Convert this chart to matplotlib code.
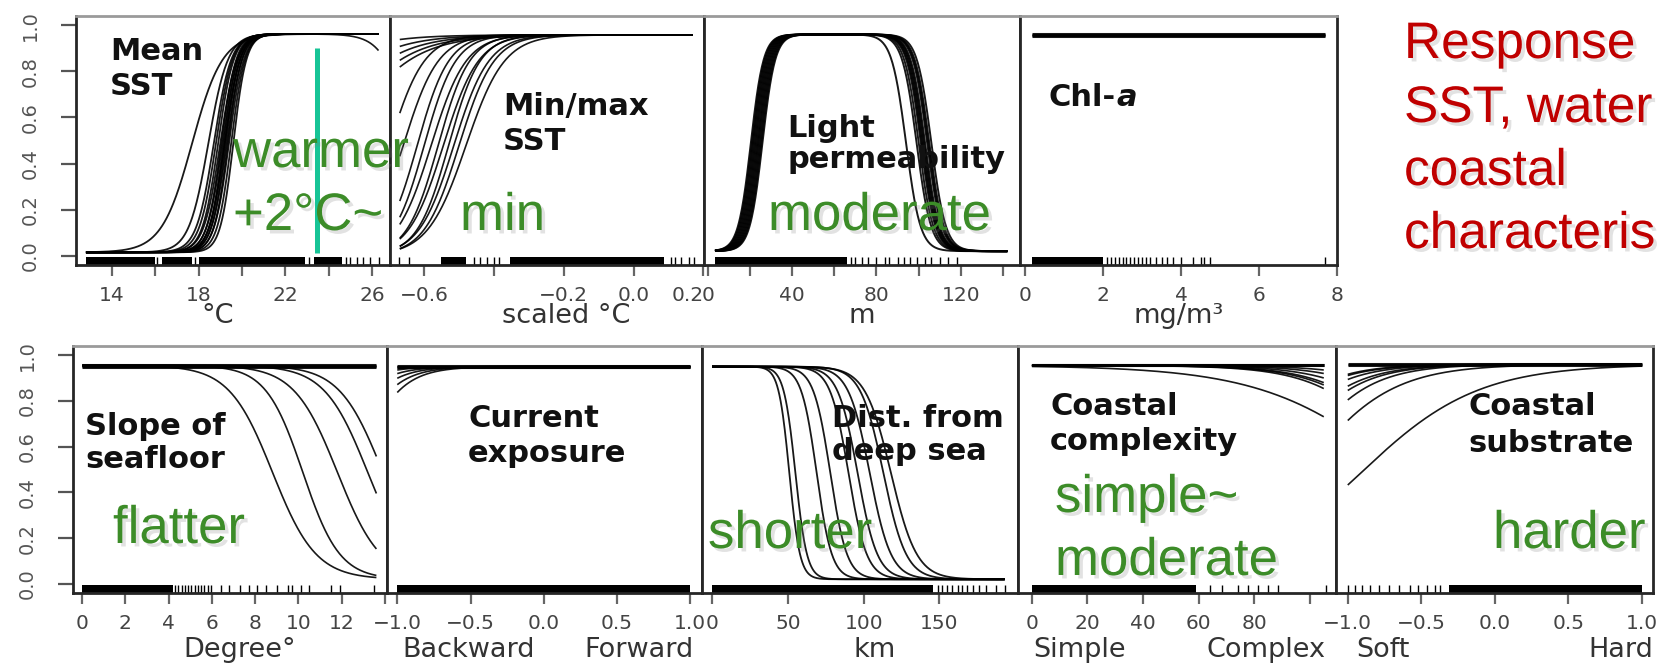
import numpy as np
import matplotlib
matplotlib.use("Agg")
import matplotlib.pyplot as plt
import matplotlib.patheffects as pe
from matplotlib.patches import Rectangle
from matplotlib.transforms import IdentityTransform

plt.rcParams["font.family"] = ["DejaVu Sans"]

W, H, DPI = 1662, 671, 100

# ---------------------------------------------------------------- data
# Mean SST (deg C): rising response curves (midpoint, scale)
sst_x = [12.8, 26.3]
sst_mid = [17.7, 18.45, 18.7, 18.8, 18.9, 19.0, 19.05, 19.1, 19.15, 19.2, 19.25, 19.3, 19.35, 19.4, 19.5, 19.6]
sst_scale = [0.7, 0.45, 0.4, 0.38, 0.36, 0.38, 0.34, 0.36, 0.33, 0.35, 0.33, 0.35, 0.32, 0.34, 0.32, 0.3]
sst_decline = [19.2, 0.35, 27.8, 0.6]          # rise mid, rise scale, fall mid, fall scale
sst_rug_dense = [(12.8, 16.0), (16.3, 17.7), (18.0, 22.9), (23.3, 24.6)]
sst_rug_sparse = [16.1, 17.85, 23.1, 24.8, 25.0, 25.3, 25.6, 25.9, 26.3]

# Min/max SST (scaled deg C)
mm_x = [-0.67, 0.17]
mm_mid = [-1.055, -0.96, -0.91, -0.874, -0.847, -0.70, -0.66, -0.62, -0.6, -0.58, -0.56, -0.545, -0.53, -0.515, -0.5, -0.48]
mm_scale = [0.1, 0.1, 0.1, 0.1, 0.1, 0.05, 0.05, 0.045, 0.045, 0.05, 0.045, 0.05, 0.045, 0.05, 0.05, 0.055]
mm_rug_dense = [(-0.551, -0.479), (-0.355, 0.086)]
mm_rug_sparse = [-0.672, -0.643, -0.456, -0.44, -0.42, -0.40, -0.385, 0.107, 0.12, 0.135, 0.159, 0.173]

# Light permeability (m): hump-shaped curves
lp_x = [3.5, 142.0]
lp_rise = [20.5, 21.0, 21.5, 22.0, 22.5, 23.0, 23.5, 24.0, 24.5, 25.0, 25.5, 26.0]
lp_fall = [94.0, 99.0, 100.0, 101.0, 101.5, 102.0, 102.5, 103.0, 104.0, 104.5, 105.0, 106.0]
lp_rise_scale = 3.0
lp_fall_scale = 3.4
lp_rug_dense = [(3.5, 66.0)]
lp_rug_sparse = [68, 70, 73, 76, 80, 84, 86, 90, 93, 96, 99, 103, 106, 110, 114, 118]

# Chl-a (mg/m3): flat responses
chl_x = [0.18, 7.7]
chl_level = [0.955, 0.958, 0.961]
chl_rug_dense = [(0.18, 2.0)]
chl_rug_sparse = [2.1, 2.2, 2.3, 2.4, 2.5, 2.6, 2.7, 2.8, 2.9, 3.0, 3.1, 3.2, 3.35, 3.5, 3.65,
                  3.8, 4.0, 4.3, 4.5, 4.6, 4.75, 7.7]

# Slope of seafloor (degree): decreasing curves plus flat ones
slope_x = [0.0, 13.6]
slope_mid = [8.8, 10.2, 11.8, 13.2, 13.9]
slope_scale = [1.0, 0.85, 1.0, 1.0, 1.0]
slope_flat = [0.950, 0.953, 0.956]
slope_rug_dense = [(0.0, 4.2)]
slope_rug_sparse = [4.3, 4.45, 4.6, 4.75, 4.9, 5.05, 5.2, 5.35, 5.5, 5.65, 5.8, 5.95,
                    6.4, 6.8, 7.3, 7.7, 8.1, 8.5, 9.0, 9.5, 9.7, 10.1, 10.5, 11.5, 11.9, 13.5]

# Current exposure (backward .. forward)
cur_x = [-1.0, 1.0]
cur_mid = [-1.62, -1.51, -1.43, -1.36, -1.30]
cur_scale = [0.15, 0.15, 0.15, 0.15, 0.15]
cur_flat = [0.946, 0.950, 0.953]
cur_rug_dense = [(-1.0, 1.0)]
cur_rug_sparse = []

# Distance from deep sea (km)
dist_x = [0.0, 193.0]
dist_mid = [51, 55, 69, 78, 90, 96, 104, 113, 118]
dist_scale = [3.5, 3.8, 5.0, 5.5, 6.0, 6.5, 7.0, 7.5, 8.5]
dist_rug_dense = [(0.0, 146.0)]
dist_rug_sparse = [149, 152, 155, 158, 162, 165, 168, 172, 176, 181, 187, 193]

# Coastal complexity (simple .. complex)
comp_x = [0.0, 105.0]
comp_mid = [134.5, 137.0, 139.8, 141.9, 147.0, 154.0, 162.8]
comp_scale = [25, 15, 15, 15, 15, 15, 15]
comp_flat = [0.955, 0.958]
comp_rug_dense = [(0.0, 59.0)]
comp_rug_sparse = [64, 68.5, 74, 77.7, 81.3, 84.9, 88.5, 105.7]

# Coastal substrate (soft .. hard)
subs_x = [-1.0, 1.0]
subs_mid = [-0.92, -1.32, -1.41, -1.50, -1.55, -1.65, -1.73, -1.73]
subs_scale = [0.4, 0.3, 0.25, 0.25, 0.25, 0.25, 0.25, 0.24]
subs_flat = [0.958, 0.961]
subs_rug_dense = [(-0.31, 1.0)]
subs_rug_sparse = [-1.0, -0.95, -0.9, -0.85, -0.79, -0.72, -0.65, -0.58, -0.52, -0.46, -0.41, -0.37]

warm_marker_x = 23.47

heading_lines = ["Response", "SST, water", "coastal", "characteris"]


# ---------------------------------------------------------------- helpers
def logistic(x, mid, scale, lo, hi):
    return lo + (hi - lo) / (1.0 + np.exp(-(x - mid) / scale))


def px_axes(x0, x1, y0, y1):
    """Axes from pixel edges (left, right, top, bottom)."""
    return fig.add_axes([x0 / W, 1 - y1 / H, (x1 - x0) / W, (y1 - y0) / H])


def style(ax, xlim, ticks, labels, first=False):
    ax.set_xlim(*xlim)
    ax.set_ylim(-0.04, 1.04)
    for name, s in ax.spines.items():
        s.set_linewidth(2.0)
        s.set_color("#9a9a9a" if name == "top" else "#262626")
    ax.set_xticks(ticks)
    ax.set_xticklabels(labels)
    ax.tick_params(axis="x", direction="out", length=8, width=1.6, color="#666666",
                   pad=7, labelsize=14.5, labelcolor="#444444")
    if first:
        ax.set_yticks([0, 0.2, 0.4, 0.6, 0.8, 1.0])
        ax.set_yticklabels(["0.0", "0.2", "0.4", "0.6", "0.8", "1.0"], rotation=90, va="center")
        ax.tick_params(axis="y", direction="out", length=11, width=1.6, color="#555555",
                       pad=15, labelsize=14, labelcolor="#555555")
    else:
        ax.set_yticks([])


def rug(ax, dense, sparse):
    tr = ax.get_xaxis_transform()
    for a, b in dense:
        ax.add_patch(Rectangle((a, 0), b - a, 0.032, transform=tr, color="black", lw=0))
    if sparse:
        ax.vlines(sparse, 0, 0.032, transform=tr, colors="black", lw=1.0)


def curve(ax, x, y, lw=1.2):
    ax.plot(x, y, color="black", lw=lw, alpha=0.9, solid_capstyle="butt")


def xlab(ax, xf, yf, s):
    ax.text(xf, yf, s, transform=ax.transAxes, ha="center", va="center",
            fontsize=19.5, color="#333333")


def title(x, y, s):
    return fig.text(x / W, 1 - y / H, s, fontsize=22, fontweight="bold", color="#111111",
                    ha="left", va="baseline")


fig = plt.figure(figsize=(W / DPI, H / DPI), dpi=DPI, facecolor="white")

# ---------------------------------------------------------------- top row
a1 = px_axes(76, 390, 16, 265)
style(a1, (12.34, 26.83), [14, 16, 18, 20, 22, 24, 26], ["14", "", "18", "", "22", "", "26"], first=True)
x = np.linspace(*sst_x, 400)
for m, s in zip(sst_mid, sst_scale):
    curve(a1, x, logistic(x, m, s, 0.015, 0.962), lw=1.3)
up = 1 / (1 + np.exp(-(x - sst_decline[0]) / sst_decline[1]))
down = 1 / (1 + np.exp((x - sst_decline[2]) / sst_decline[3]))
curve(a1, x, 0.015 + (0.962 - 0.015) * up * down)
rug(a1, sst_rug_dense, sst_rug_sparse)
a1.vlines(warm_marker_x, 0.01, 0.90, color="#17C496", lw=3.6, zorder=5)
xlab(a1, 0.45, -0.205, "°C")

a2 = px_axes(390, 704, 16, 265)
style(a2, (-0.698, 0.202), [-0.6, -0.4, -0.2, 0.0, 0.2], ["−0.6", "", "−0.2", "0.0", "0.2"])
a2.get_xticklabels()[-1].set_ha("right")
x = np.linspace(*mm_x, 400)
for m, s in zip(mm_mid, mm_scale):
    curve(a2, x, logistic(x, m, s, 0.0, 0.958))
rug(a2, mm_rug_dense, mm_rug_sparse)
xlab(a2, 0.56, -0.205, "scaled °C")

a3 = px_axes(704, 1020, 16, 265)
style(a3, (-1.7, 148.0), [0, 20, 40, 60, 80, 100, 120, 140], ["0", "", "40", "", "80", "", "120", ""])
x = np.linspace(*lp_x, 500)
for mr, mf in zip(lp_rise, lp_fall):
    r = 1 / (1 + np.exp(-(x - mr) / lp_rise_scale))
    f = 1 / (1 + np.exp((x - mf) / lp_fall_scale))
    curve(a3, x, 0.02 + (0.96 - 0.02) * r * f, lw=1.4)
rug(a3, lp_rug_dense, lp_rug_sparse)
xlab(a3, 0.5, -0.205, "m")

a4 = px_axes(1020, 1337, 16, 265)
style(a4, (-0.13, 8.0), [0, 2, 4, 6, 8], ["0", "2", "4", "6", "8"])
for lvl in chl_level:
    curve(a4, chl_x, [lvl, lvl], lw=2.2)
rug(a4, chl_rug_dense, chl_rug_sparse)
xlab(a4, 0.5, -0.205, "mg/m³")

# ---------------------------------------------------------------- bottom row
b1 = px_axes(73, 387, 346, 593)
style(b1, (-0.42, 14.09), [0, 2, 4, 6, 8, 10, 12, 14], ["0", "2", "4", "6", "8", "10", "12", ""], first=True)
x = np.linspace(*slope_x, 400)
for m, s in zip(slope_mid, slope_scale):
    curve(b1, x, logistic(x, m, -s, 0.02, 0.955))
for lvl in slope_flat:
    curve(b1, slope_x, [lvl, lvl], lw=2.2)
rug(b1, slope_rug_dense, slope_rug_sparse)
xlab(b1, 0.53, -0.23, "Degree°")

b2 = px_axes(387, 702, 346, 593)
style(b2, (-1.07, 1.08), [-1.0, -0.5, 0.0, 0.5, 1.0], ["−1.0", "−0.5", "0.0", "0.5", "1.0"])
x = np.linspace(*cur_x, 400)
for m, s in zip(cur_mid, cur_scale):
    curve(b2, x, logistic(x, m, s, 0.0, 0.95))
for lvl in cur_flat:
    curve(b2, cur_x, [lvl, lvl], lw=2.2)
rug(b2, cur_rug_dense, cur_rug_sparse)
xlab(b2, 0.26, -0.23, "Backward")
xlab(b2, 0.80, -0.23, "Forward")

b3 = px_axes(702, 1018, 346, 593)
style(b3, (-6.6, 201.8), [0, 50, 100, 150], ["0", "50", "100", "150"])
x = np.linspace(*dist_x, 500)
for m, s in zip(dist_mid, dist_scale):
    curve(b3, x, logistic(x, m, -s, 0.02, 0.95), lw=1.3)
rug(b3, dist_rug_dense, dist_rug_sparse)
xlab(b3, 0.547, -0.23, "km")

b4 = px_axes(1018, 1336, 346, 593)
style(b4, (-5.0, 109.4), [0, 20, 40, 60, 80, 100], ["0", "20", "40", "60", "80", ""])
x = np.linspace(*comp_x, 400)
for m, s in zip(comp_mid, comp_scale):
    curve(b4, x, logistic(x, m, -s, 0.0, 0.955))
for lvl in comp_flat:
    curve(b4, comp_x, [lvl, lvl], lw=2.2)
rug(b4, comp_rug_dense, comp_rug_sparse)
xlab(b4, 0.195, -0.23, "Simple")
xlab(b4, 0.78, -0.23, "Complex")

b5 = px_axes(1336, 1653, 346, 593)
style(b5, (-1.08, 1.075), [-1.0, -0.5, 0.0, 0.5, 1.0], ["−1.0", "−0.5", "0.0", "0.5", "1.0"])
x = np.linspace(*subs_x, 400)
for m, s in zip(subs_mid, subs_scale):
    curve(b5, x, logistic(x, m, s, 0.0, 0.96))
for lvl in subs_flat:
    curve(b5, subs_x, [lvl, lvl], lw=2.2)
rug(b5, subs_rug_dense, subs_rug_sparse)
xlab(b5, 0.148, -0.23, "Soft")
xlab(b5, 0.90, -0.23, "Hard")

# ---------------------------------------------------------------- panel names
title(110, 60, "Mean")
title(110, 95, "SST")
title(503, 115, "Min/max")
title(503, 150, "SST")
title(787, 137, "Light")
title(787, 168, "permeability")
chl = title(1049, 106, "Chl-")
chl_a = fig.text(0, 0, "a", fontsize=22, fontweight="bold", fontstyle="italic",
                 color="#111111", ha="left", va="bottom")
title(85, 435, "Slope of")
title(85, 468, "seafloor")
title(468, 427, "Current")
title(468, 462, "exposure")
title(832, 427, "Dist. from")
title(832, 460, "deep sea")
title(1050, 415, "Coastal")
title(1050, 450, "complexity")
title(1468, 415, "Coastal")
title(1468, 452, "substrate")

# ---------------------------------------------------------------- overlay notes
shadow = [pe.withSimplePatchShadow(offset=(2.5, -2.5), shadow_rgbFace="#7f7f7f", alpha=0.22)]


def note(x, y, s, color, size=38):
    fig.text(x / W, 1 - y / H, s, fontsize=size, family="Liberation Sans", color=color,
             ha="left", va="baseline", path_effects=shadow, zorder=20)


green = "#3C8C28"
note(233, 167, "warmer", green)
note(233, 230, "+2°C~", green)
note(460, 230, "min", green)
note(768, 230, "moderate", green)
note(113, 543, "flatter", green)
note(708, 548, "shorter", green)
note(1055, 512, "simple~", green)
note(1055, 575, "moderate", green)
note(1493, 548, "harder", green)

red = "#C00000"
for line, base in zip(heading_lines, [58, 122, 185, 248]):
    note(1404, base, line, red, size=37)

# place the italic "a" right after "Chl-"
fig.canvas.draw()
bb = chl.get_window_extent()
chl_a.set_transform(IdentityTransform())
chl_a.set_position((bb.x1, bb.y0))

fig.savefig("out.png", dpi=DPI, facecolor="white")
